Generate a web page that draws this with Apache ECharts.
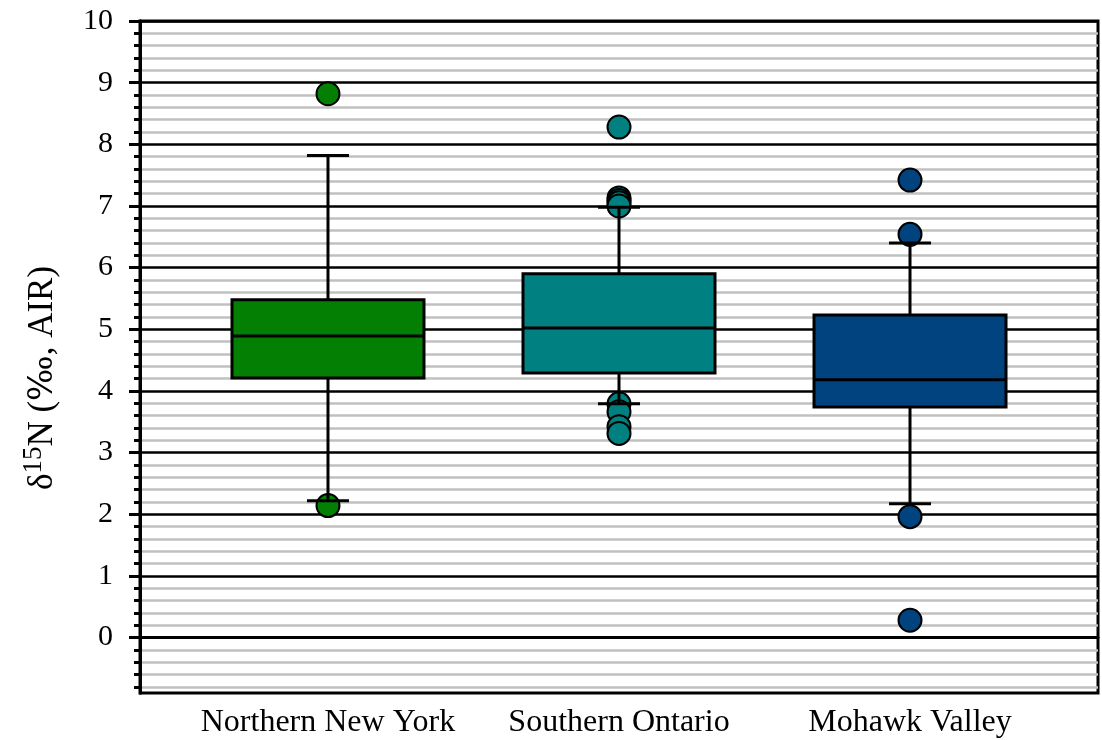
<!DOCTYPE html>
<html>
<head>
<meta charset="utf-8">
<style>
  html, body { margin: 0; padding: 0; background: #fff; }
  #chart { width: 1102px; height: 740px; }
</style>
<script src="https://cdn.jsdelivr.net/npm/echarts@6/dist/echarts.min.js"></script>
</head>
<body>
<div id="chart"></div>
<script>
// Regions and their box-plot summaries (δ15N, ‰ vs AIR)
const categories = ['Northern New York', 'Southern Ontario', 'Mohawk Valley'];
const positions = [1, 2, 3];
const lowerWhisker = [2.22, 3.79, 2.17];
const q1 = [4.21, 4.29, 3.74];
const median = [4.89, 5.02, 4.18];
const q3 = [5.48, 5.90, 5.23];
const upperWhisker = [7.82, 6.98, 6.40];

// Outlying samples per region
const outliersNNY = [8.82, 2.14];
const outliersSO = [8.28, 7.13, 7.09, 7.05, 7.0, 3.79, 3.66, 3.42, 3.31];
const outliersMV = [7.42, 6.54, 1.96, 0.28];

// Axis ticks
const majorTicks = [0, 1, 2, 3, 4, 5, 6, 7, 8, 9, 10];
const minorTicks = [];
for (let k = -4; k <= 49; k++) {
  if (k % 5 !== 0) minorTicks.push(Math.round(k * 2) / 10);
}

const colors = ['#037f03', '#008080', '#00437f'];
const FONT = '"Liberation Serif", "Times New Roman", serif';
const BOX_PX = 192;
const CAP_PX = 42;

const boxData = positions.map((p, i) => [p, lowerWhisker[i], q1[i], median[i], q3[i], upperWhisker[i]]);
const outlierSets = [outliersNNY, outliersSO, outliersMV];

function renderBox(params, api) {
  const x = api.value(0);
  const pMin = api.coord([x, api.value(1)]);
  const pQ1 = api.coord([x, api.value(2)]);
  const pMed = api.coord([x, api.value(3)]);
  const pQ3 = api.coord([x, api.value(4)]);
  const pMax = api.coord([x, api.value(5)]);
  const cx = pMed[0];
  const line = { stroke: '#000', lineWidth: 3 };
  return {
    type: 'group',
    children: [
      { type: 'line', shape: { x1: cx, y1: pQ1[1], x2: cx, y2: pMin[1] }, style: line },
      { type: 'line', shape: { x1: cx, y1: pQ3[1], x2: cx, y2: pMax[1] }, style: line },
      { type: 'line', shape: { x1: cx - CAP_PX / 2, y1: pMin[1], x2: cx + CAP_PX / 2, y2: pMin[1] }, style: line },
      { type: 'line', shape: { x1: cx - CAP_PX / 2, y1: pMax[1], x2: cx + CAP_PX / 2, y2: pMax[1] }, style: line },
      { type: 'rect', shape: { x: cx - BOX_PX / 2, y: pQ3[1], width: BOX_PX, height: pQ1[1] - pQ3[1] },
        style: { fill: colors[params.dataIndex], stroke: '#000', lineWidth: 3 } },
      { type: 'line', shape: { x1: cx - BOX_PX / 2, y1: pMed[1], x2: cx + BOX_PX / 2, y2: pMed[1] }, style: { stroke: '#000', lineWidth: 3 } }
    ]
  };
}

const chart = echarts.init(document.getElementById('chart'), null, { renderer: 'canvas' });

const scatterSeries = outlierSets.map((vals, i) => ({
  type: 'scatter',
  z: 2,
  symbol: 'circle',
  symbolSize: 23,
  itemStyle: { color: colors[i], borderColor: '#000', borderWidth: 2, opacity: 1 },
  data: vals.map(v => [positions[i], v]),
  silent: true
}));

chart.setOption({
  animation: false,
  grid: {
    left: 140, right: 4, top: 21, bottom: 47,
    show: true, borderColor: '#000', borderWidth: 3, backgroundColor: 'transparent'
  },
  xAxis: {
    type: 'value',
    min: 0.354, max: 3.646,
    axisLine: { show: true, lineStyle: { color: '#000', width: 3 } },
    axisTick: { show: false },
    splitLine: { show: false },
    axisLabel: {
      customValues: positions,
      formatter: v => categories[Math.round(v) - 1] || '',
      color: '#000', fontFamily: FONT, fontSize: 32, margin: 14
    }
  },
  yAxis: [
    {
      type: 'value',
      min: -0.9, max: 10,
      name: '{d|δ}{sup|15}{d|N (}{pm|‰}{d|, AIR)}',
      nameLocation: 'middle',
      nameRotate: 90,
      nameGap: 80,
      nameTextStyle: {
        padding: [0, 42, 0, 0],
        rich: {
          d: { fontFamily: FONT, fontSize: 35, color: '#000', lineHeight: 40, verticalAlign: 'bottom' },
          pm: { fontFamily: '"DejaVu Serif", serif', fontSize: 34, color: '#000', lineHeight: 40, verticalAlign: 'bottom' },
          sup: { fontFamily: FONT, fontSize: 27, color: '#000', lineHeight: 40, verticalAlign: 'top' }
        }
      },
      axisLine: { show: true, lineStyle: { color: '#000', width: 3 } },
      axisTick: { show: true, customValues: majorTicks, length: 11, lineStyle: { color: '#000', width: 3 } },
      axisLabel: { customValues: majorTicks, color: '#000', fontFamily: FONT, fontSize: 30, margin: 27 },
      splitLine: { show: true, lineStyle: { color: '#000', width: 2.5 } }
    },
    {
      type: 'value',
      min: -0.9, max: 10,
      position: 'left',
      axisLine: { show: true, lineStyle: { color: '#000', width: 3 } },
      axisTick: { show: true, customValues: minorTicks, length: 6, lineStyle: { color: '#000', width: 3 } },
      axisLabel: { show: false },
      splitLine: { show: true, lineStyle: { color: '#c0c0c0', width: 2.5 } }
    }
  ],
  series: [
    ...scatterSeries,
    {
      type: 'custom',
      z: 3,
      renderItem: renderBox,
      encode: { x: 0, y: [1, 2, 3, 4, 5] },
      data: boxData,
      silent: true
    }
  ]
});
</script>
</body>
</html>
